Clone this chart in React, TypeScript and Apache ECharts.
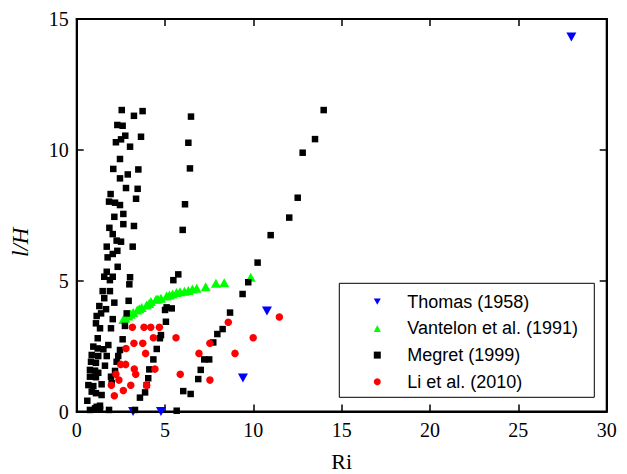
import React, { useEffect, useRef } from "react";
import * as echarts from "echarts";

// Ri ticks / l/H ticks
const xTicks = [0, 5, 10, 15, 20, 25, 30];
const yTicks = [0, 5, 10, 15];

const seriesNames = ["Thomas (1958)", "Vantelon et al. (1991)", "Megret (1999)", "Li et al. (2010)"];

// [Ri, l/H]
const thomas: number[][] = [
  [28.0, 14.31], [10.77, 3.84], [9.41, 1.28], [3.19, 0.0], [4.77, 0.0],
];

const vantelon: number[][] = [
  [2.64, 3.52], [2.75, 3.56], [2.92, 3.65], [3.05, 3.72], [3.2, 3.78], [3.43, 3.88],
  [3.55, 3.93], [3.68, 3.97], [3.96, 4.07], [4.1, 4.13], [4.2, 4.2], [4.49, 4.29],
  [4.6, 4.3], [4.77, 4.33], [5.09, 4.41], [5.25, 4.45], [5.43, 4.49], [5.65, 4.55],
  [5.85, 4.58], [6.1, 4.6], [6.32, 4.62], [6.55, 4.68], [6.79, 4.71], [7.3, 4.77],
  [7.88, 4.9], [8.35, 4.92], [9.85, 5.13],
];

const megret: number[][] = [
  [2.55, 11.52], [3.24, 11.3], [3.73, 11.48], [2.3, 10.95], [2.6, 10.92], [2.75, 10.54],
  [2.51, 10.4], [2.22, 10.29], [3.64, 10.5], [3.02, 10.12], [2.45, 9.65], [2.07, 9.27],
  [3.49, 9.25], [2.45, 8.91], [2.89, 9.06], [2.79, 8.54], [3.45, 8.51], [1.92, 8.31],
  [1.83, 8.02], [2.17, 7.98], [2.45, 7.89], [3.36, 8.13], [2.64, 7.55], [2.13, 7.44],
  [2.64, 7.16], [3.24, 7.09], [1.85, 7.02], [2.04, 6.78], [2.26, 6.53], [2.51, 6.49],
  [3.17, 6.3], [1.7, 6.3], [2.3, 6.14], [2.04, 6.02], [1.75, 5.89], [2.32, 5.53],
  [1.7, 5.34], [1.56, 5.15], [1.88, 5.02], [2.04, 5.15], [3.02, 5.13], [2.98, 4.86],
  [1.47, 4.6], [1.88, 4.6], [1.56, 4.33], [2.13, 4.16], [2.94, 4.23], [1.28, 4.03],
  [1.66, 3.91], [1.38, 3.75], [2.83, 3.75], [1.13, 3.65], [2.04, 3.53], [1.09, 3.37],
  [1.32, 3.18], [1.94, 3.18], [2.73, 3.27], [1.19, 2.8], [2.6, 2.76], [0.94, 2.48],
  [1.19, 2.41], [1.51, 2.38], [1.79, 2.54], [2.45, 2.35], [0.85, 2.16], [1.22, 2.12],
  [1.7, 2.12], [2.35, 2.12], [0.81, 1.9], [1.09, 1.86], [1.6, 1.75], [2.26, 1.9],
  [0.75, 1.59], [1.04, 1.56], [1.22, 1.48], [2.17, 1.55], [0.75, 1.33], [1.09, 1.31],
  [1.94, 1.33], [0.66, 1.01], [0.94, 0.97], [1.41, 1.04], [1.98, 1.08], [0.85, 0.76],
  [1.09, 0.7], [1.41, 0.63], [0.6, 0.41], [0.75, 0.06], [1.04, 0.12], [1.32, 0.08],
  [1.13, 0.18], [1.32, 0.22], [1.83, 0.06],
  [3.3, 0.06], [3.58, 0.53], [3.87, 0.73], [3.96, 1.01], [4.05, 1.27], [4.11, 1.61],
  [4.34, 1.99], [4.53, 2.39], [4.71, 2.8], [4.77, 2.92], [5.05, 3.43], [5.0, 3.88],
  [5.38, 3.94], [5.09, 3.98], [5.47, 5.02], [5.75, 5.24], [6.0, 6.94], [6.13, 7.92],
  [6.41, 9.29], [6.32, 10.27], [6.47, 11.27], [5.66, 0.03], [6.03, 0.78], [6.45, 0.67],
  [6.88, 1.24], [7.02, 1.59], [7.22, 1.99], [7.5, 1.99], [7.73, 2.64], [7.96, 2.96],
  [8.26, 3.15], [8.68, 3.78], [9.39, 4.49], [9.71, 4.94], [10.24, 5.69], [10.98, 6.74],
  [12.03, 7.41], [12.51, 8.17], [12.79, 9.89], [13.49, 10.41], [13.98, 11.52],
];

const li: number[][] = [
  [3.15, 3.22], [3.81, 3.22], [4.19, 3.22], [4.68, 3.22], [4.34, 2.82], [5.62, 2.82],
  [3.24, 2.61], [3.74, 2.61], [2.79, 2.41], [3.9, 2.22], [6.92, 2.22], [7.54, 2.61],
  [8.96, 2.22], [9.99, 2.82], [8.58, 3.41], [11.47, 3.61], [2.49, 1.8], [2.77, 1.8],
  [2.22, 1.42], [3.26, 1.62], [3.34, 1.42], [4.43, 1.62], [5.86, 1.42], [2.39, 1.2],
  [1.96, 1.0], [3.06, 1.0], [3.96, 1.0], [2.64, 0.8], [2.13, 0.6], [7.54, 1.2],
];

const downTri = "path://M0,0 L10,0 L5,9 Z";

export default function App() {
  const ref = useRef<HTMLDivElement>(null);
  useEffect(() => {
    document.body.style.margin = "0";
    const chart = echarts.init(ref.current!, null, { renderer: "svg" });
    const serif = "Liberation Serif";
    const mkLine = () => ({ show: true, onZero: false, lineStyle: { color: "#000", width: 2 } });
    const mkTick = () => ({ show: true, inside: true, length: 7, lineStyle: { color: "#000", width: 1.5 } });
    const mkLabel = () => ({ fontFamily: serif, fontSize: 20, color: "#000", margin: 8 });
    const xBase = () => ({
      type: "value",
      min: xTicks[0],
      max: xTicks[xTicks.length - 1],
      interval: xTicks[1] - xTicks[0],
      splitLine: { show: false },
      axisLine: mkLine(),
      axisTick: mkTick(),
    });
    const yBase = () => ({
      type: "value",
      min: yTicks[0],
      max: yTicks[yTicks.length - 1],
      interval: yTicks[1] - yTicks[0],
      splitLine: { show: false },
      axisLine: mkLine(),
      axisTick: mkTick(),
    });
    chart.setOption({
      animation: false,
      grid: {
        left: 76.7,
        right: 20.3,
        top: 19,
        bottom: 62.5,
        outerBoundsMode: "none",
        show: true,
        borderColor: "#000",
        borderWidth: 2,
      },
      xAxis: [
        {
          ...xBase(),
          position: "bottom",
          axisLabel: mkLabel(),
          name: "Ri",
          nameLocation: "middle",
          nameGap: 39,
          nameTextStyle: { fontFamily: serif, fontSize: 22, color: "#000" },
        },
        { ...xBase(), position: "top", axisLabel: { show: false } },
      ],
      yAxis: [
        {
          ...yBase(),
          position: "left",
          axisLabel: mkLabel(),
          name: "l/H",
          nameLocation: "middle",
          nameGap: 45,
          nameTextStyle: {
            fontFamily: serif,
            fontStyle: "italic",
            fontSize: 23,
            color: "#000",
            padding: [0, 54, 0, 0],
          },
        },
        { ...yBase(), position: "right", axisLabel: { show: false } },
      ],
      legend: {
        orient: "vertical",
        left: 373.8,
        top: 292.7,
        padding: 0,
        itemGap: 8.7,
        itemWidth: 7,
        itemHeight: 7,
        textStyle: {
          fontFamily: "Liberation Sans",
          fontSize: 18,
          color: "#000",
          padding: [0, 0, 0, 21.5],
        },
        data: [
          { name: seriesNames[0], icon: downTri },
          { name: seriesNames[1], icon: "triangle" },
          { name: seriesNames[2], icon: "rect" },
          { name: seriesNames[3], icon: "circle" },
        ],
      },
      graphic: [
        {
          type: "rect",
          z: 3,
          shape: { x: 339.3, y: 283.3, width: 255, height: 114 },
          style: { fill: "#fff", stroke: "#000", lineWidth: 1 },
        },
      ],
      series: [
        {
          name: seriesNames[0],
          type: "scatter",
          data: thomas,
          symbol: downTri,
          symbolSize: [10, 9],
          itemStyle: { color: "#0000ff", opacity: 1 },
        },
        {
          name: seriesNames[1],
          type: "scatter",
          data: vantelon,
          symbol: "triangle",
          symbolSize: [10, 9],
          itemStyle: { color: "#00ff00", opacity: 1 },
        },
        {
          name: seriesNames[2],
          type: "scatter",
          data: megret,
          symbol: "rect",
          symbolSize: 6.5,
          itemStyle: { color: "#000", opacity: 1 },
        },
        {
          name: seriesNames[3],
          type: "scatter",
          data: li,
          symbol: "circle",
          symbolSize: 7.5,
          itemStyle: { color: "#ff0000", opacity: 1 },
        },
      ],
    });
    return () => chart.dispose();
  }, []);
  return <div ref={ref} style={{ width: 627, height: 474 }} />;
}
